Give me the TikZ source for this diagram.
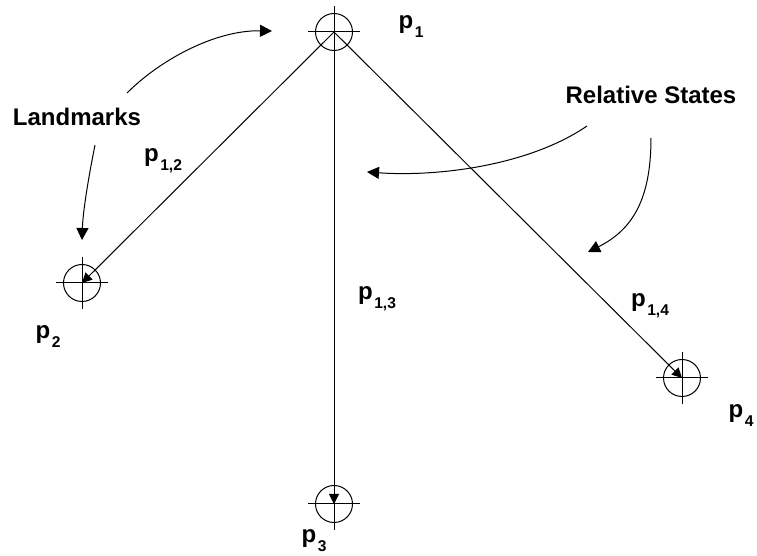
\documentclass[tikz,border=0pt]{standalone}
\usepackage{fontspec}
\setmainfont{Liberation Sans}
\usepackage{tikz}
\usetikzlibrary{arrows.meta}

\newcommand{\plabel}[1]{p\kern0.8pt\raisebox{-4.5pt}{\fontsize{7.8}{9}\selectfont #1}}

\tikzset{
  landmark/.style={circle, draw, line width=0.5pt, minimum size=18.5pt, inner sep=0pt},
  lbl/.style={font=\fontsize{12}{14}\selectfont\bfseries, inner sep=0pt},
  rel/.style={line width=0.5pt, -{Triangle[length=5pt,width=5pt]}},
  pointer/.style={line width=0.5pt, -{Triangle[length=6pt,width=6pt]}}
}

\begin{document}
\begin{tikzpicture}[x=0.5pt, y=-0.5pt]
            \useasboundingbox (0,0) rectangle (757,556);

            \node[landmark] (p1) at (334,32) {};
            \node[landmark] (p2) at (82,283) {};
            \node[landmark] (p3) at (334,504) {};
            \node[landmark] (p4) at (682,378) {};
            \foreach \n in {p1,p2,p3,p4} {
              \draw[line width=0.5pt] (\n.center) +(-13pt,0) -- +(13pt,0);
              \draw[line width=0.5pt] (\n.center) +(0,-13pt) -- +(0,13pt);
            }

            \draw[rel] (p1.center) -- (p2.center);
            \draw[rel] (p1.center) -- (p3.center);
            \draw[rel] (p1.center) -- (p4.center);

            \node[lbl] (l1) at (411,27) {\plabel{1}};
            \node[lbl] (l2) at (48,337) {\plabel{2}};
            \node[lbl] (l3) at (314,541) {\plabel{3}};
            \node[lbl] (l4) at (741,416) {\plabel{4}};
            \node[lbl] (l12) at (163,161) {\plabel{1,2}};
            \node[lbl] (l13) at (377,299) {\plabel{1,3}};
            \node[lbl] (l14) at (650,306) {\plabel{1,4}};

            \node[lbl] (land) at (77,117) {Landmarks};
            \node[lbl] (states) at (651,95) {Relative States};

            \coordinate (landA) at (127,93);
            \coordinate (landB) at (95,145);
            \coordinate (stA) at (587,126);
            \coordinate (stB) at (651,138);
            \coordinate (tipA) at (272,31);
            \coordinate (tipB) at (82,240);
            \coordinate (tipC) at (367,172);
            \coordinate (tipD) at (588,252);

            \draw[pointer] (landA) .. controls (160,60) and (215,30) .. (tipA);
            \draw[pointer] (landB) .. controls (89,175) and (83,210) .. (tipB);
            \draw[pointer] (stA) .. controls (530,165) and (440,177) .. (tipC);
            \draw[pointer] (stB) .. controls (651,200) and (632,230) .. (tipD);
         \end{tikzpicture}
\end{document}
